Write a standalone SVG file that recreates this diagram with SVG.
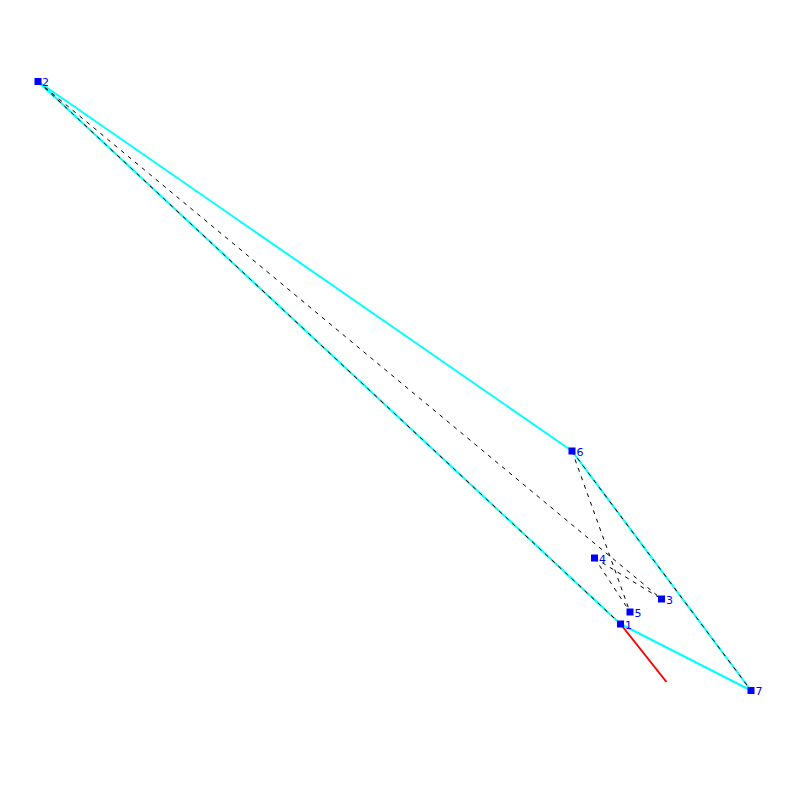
<svg xmlns="http://www.w3.org/2000/svg" width="800" height="800" viewBox="0 0 800 800">
<style>
.c{stroke:#00ffff;stroke-width:2;fill:none}
.d{stroke:#000;stroke-width:1;stroke-dasharray:4,5;fill:none}
.r{stroke:#ff0000;stroke-width:2;fill:none}
.n rect{fill:#0000ff}
.n text{fill:#0000ff;font-family:"DejaVu Sans",sans-serif;font-size:11px}
</style>
<rect width="800" height="800" fill="#fff"/>
<g id="connectors">
<line class="c" x1="38" y1="81.5" x2="572" y2="451"/>
<line class="c" x1="572" y1="451" x2="751" y2="690.5"/>
<line class="c" x1="751" y1="690.5" x2="620.5" y2="624"/>
<line class="c" x1="620.5" y1="624" x2="38" y2="81.5"/>
<line class="d" x1="38" y1="81.5" x2="620.5" y2="624"/>
<line class="d" x1="38" y1="81.5" x2="661.5" y2="599"/>
<line class="d" x1="572" y1="451" x2="751" y2="690.5"/>
<line class="d" x1="572" y1="451" x2="630" y2="612"/>
<line class="d" x1="594.5" y1="558" x2="661.5" y2="599"/>
<line class="d" x1="594.5" y1="558" x2="630" y2="612"/>
<line class="r" x1="620.5" y1="624" x2="666.5" y2="682"/>
</g>
<g id="n1" class="n"><rect x="617" y="620.5" width="7" height="7"/><text x="625" y="628.5">1</text></g>
<g id="n2" class="n"><rect x="34.5" y="78" width="7" height="7"/><text x="42" y="85.5">2</text></g>
<g id="n3" class="n"><rect x="658" y="595.5" width="7" height="7"/><text x="666" y="603.5">3</text></g>
<g id="n4" class="n"><rect x="591" y="554.5" width="7" height="7"/><text x="599" y="562.5">4</text></g>
<g id="n5" class="n"><rect x="626.5" y="608.5" width="7" height="7"/><text x="634.5" y="616.5">5</text></g>
<g id="n6" class="n"><rect x="568.5" y="447.5" width="7" height="7"/><text x="576.5" y="455.5">6</text></g>
<g id="n7" class="n"><rect x="747.5" y="687" width="7" height="7"/><text x="755.5" y="695">7</text></g>
</svg>
